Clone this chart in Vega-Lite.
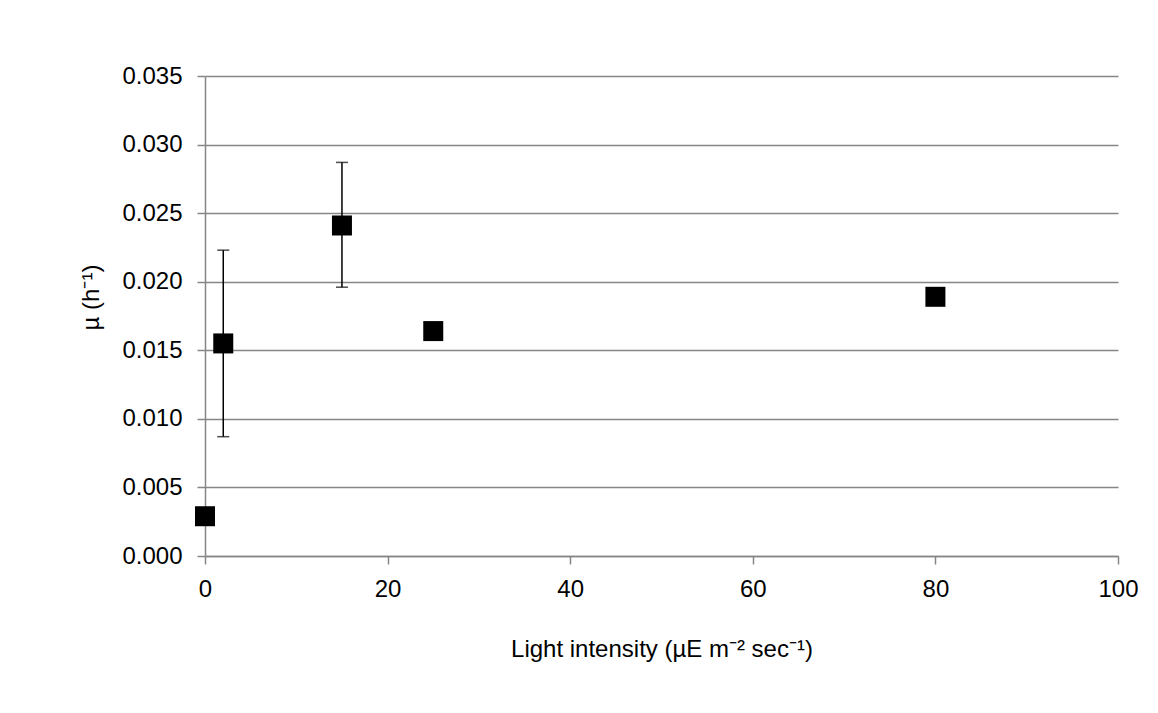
{
  "$schema": "https://vega.github.io/schema/vega-lite/v6.json",
  "autosize": {"type": "none"},
  "width": 913,
  "height": 480,
  "padding": {"left": 205, "top": 76, "right": 40, "bottom": 157},
  "background": "white",
  "config": {
    "view": {"stroke": null},
    "font": "Liberation Sans",
    "axis": {
      "labelFont": "Liberation Sans",
      "titleFont": "Liberation Sans",
      "labelFontSize": 24,
      "titleFontSize": 24,
      "titleFontWeight": "normal",
      "labelColor": "black",
      "titleColor": "black",
      "labelFlush": false,
      "domainColor": "#868686",
      "domainWidth": 1.5,
      "tickColor": "#868686",
      "tickWidth": 1.5,
      "tickSize": 8,
      "gridColor": "#868686",
      "gridWidth": 1.5
    }
  },
  "data": {
    "values": [
      {"light": 0, "mu": 0.0029},
      {"light": 2, "mu": 0.0155, "lo": 0.0087, "hi": 0.0223},
      {"light": 15, "mu": 0.0241, "lo": 0.0196, "hi": 0.0287},
      {"light": 25, "mu": 0.0164},
      {"light": 80, "mu": 0.0189}
    ]
  },
  "layer": [
    {
      "transform": [{"filter": "isValid(datum.lo)"}],
      "mark": {"type": "errorbar", "ticks": {"size": 12, "color": "black", "thickness": 1.5}, "rule": {"color": "black", "strokeWidth": 1.5}},
      "encoding": {
        "x": {"field": "light", "type": "quantitative", "title": "Light intensity (µE m⁻² sec⁻¹)"},
        "y": {"field": "lo", "type": "quantitative", "title": "µ (h⁻¹)"},
        "y2": {"field": "hi"}
      }
    },
    {
      "mark": {"type": "point", "shape": "square", "filled": true, "color": "black", "opacity": 1, "size": 400},
      "encoding": {
        "x": {
          "field": "light", "type": "quantitative",
          "scale": {"domain": [0, 100], "nice": false, "zero": false},
          "title": "Light intensity (µE m⁻² sec⁻¹)",
          "axis": {"values": [0, 20, 40, 60, 80, 100], "grid": false, "labelPadding": 13, "titlePadding": 36}
        },
        "y": {
          "field": "mu", "type": "quantitative",
          "scale": {"domain": [0, 0.035], "nice": false},
          "title": "µ (h⁻¹)",
          "axis": {"values": [0, 0.005, 0.01, 0.015, 0.02, 0.025, 0.03, 0.035], "format": ".3f", "grid": true, "labelPadding": 15, "titlePadding": 18, "titleY": 221}
        }
      }
    }
  ]
}
